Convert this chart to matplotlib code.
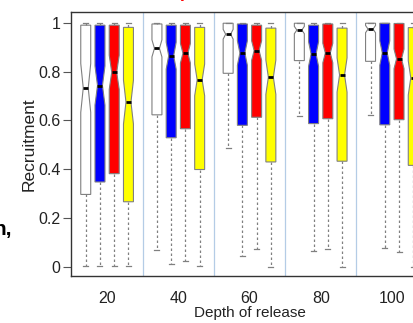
import matplotlib
matplotlib.use("Agg")
import matplotlib.pyplot as plt

plt.rcParams['font.family'] = ['Liberation Sans', 'DejaVu Sans']

depths = [20, 40, 60, 80, 100]
colors = ['white', '#0000ff', '#ff0000', '#ffff00']

# per series: values for depth 20..100
white_med = [0.733, 0.895, 0.953, 0.970, 0.974]
white_q1 = [0.297, 0.623, 0.793, 0.845, 0.842]
white_q3 = [0.990, 0.995, 0.998, 0.998, 0.998]
white_lo = [0.005, 0.069, 0.489, 0.620, 0.623]
white_ci = [0.10, 0.035, 0.02, 0.015, 0.015]

blue_med = [0.743, 0.865, 0.876, 0.872, 0.876]
blue_q1 = [0.348, 0.529, 0.580, 0.587, 0.582]
blue_q3 = [0.990, 0.990, 0.995, 0.990, 0.998]
blue_lo = [0.005, 0.012, 0.046, 0.065, 0.076]
blue_ci = [0.08, 0.055, 0.05, 0.05, 0.05]

red_med = [0.797, 0.875, 0.886, 0.876, 0.852]
red_q1 = [0.382, 0.566, 0.613, 0.607, 0.603]
red_q3 = [0.990, 0.990, 0.990, 0.995, 0.997]
red_lo = [0.005, 0.024, 0.072, 0.072, 0.060]
red_ci = [0.07, 0.04, 0.04, 0.04, 0.04]

yellow_med = [0.675, 0.766, 0.777, 0.786, 0.774]
yellow_q1 = [0.267, 0.399, 0.430, 0.433, 0.416]
yellow_q3 = [0.981, 0.981, 0.978, 0.978, 0.980]
yellow_lo = [0.005, 0.005, 0.001, 0.000, 0.000]
yellow_ci = [0.09, 0.065, 0.07, 0.07, 0.07]

whis_hi = 1.0

series = [
    (white_med, white_q1, white_q3, white_lo, white_ci),
    (blue_med, blue_q1, blue_q3, blue_lo, blue_ci),
    (red_med, red_q1, red_q3, red_lo, red_ci),
    (yellow_med, yellow_q1, yellow_q3, yellow_lo, yellow_ci),
]

fig = plt.figure(figsize=(4.14, 3.23), dpi=100)
ax = fig.add_axes([71.5 / 414, 47 / 323, 356 / 414, 264 / 323])

gray = '#808080'
for s, (med, q1, q3, lo, ci) in enumerate(series):
    stats = []
    pos = []
    for g in range(len(depths)):
        stats.append(dict(med=med[g], q1=q1[g], q3=q3[g], whislo=lo[g], whishi=whis_hi,
                          cilo=med[g] - ci[g], cihi=med[g] + ci[g], fliers=[]))
        pos.append(5 * g + 1 + s)
    ax.bxp(stats, positions=pos, widths=0.7, shownotches=True, patch_artist=True,
           showfliers=False, manage_ticks=False,
           boxprops=dict(facecolor=colors[s], edgecolor=gray, linewidth=0.8),
           medianprops=dict(color='black', linewidth=2),
           whiskerprops=dict(color=gray, linestyle=(0, (2, 2)), linewidth=0.9),
           capprops=dict(color=gray, linewidth=0.9), capwidths=0.35)

for g in range(1, len(depths)):
    ax.axvline(5 * g, color='#b4cce6', linewidth=0.9, zorder=0)

ax.set_xlim(0, 25)
ax.set_ylim(-0.037, 1.044)
ax.set_xticks([5 * g + 2.5 for g in range(len(depths))])
ax.set_xticklabels([str(d) for d in depths])
ax.set_yticks([0, 0.2, 0.4, 0.6, 0.8, 1.0])
ax.set_yticklabels(['0', '0.2', '0.4', '0.6', '0.8', '1'])
ax.tick_params(axis='x', length=0, labelsize=11.5, pad=11, colors='#222222')
ax.tick_params(axis='y', length=6, width=0.8, labelsize=11.5, pad=2, color='#555555', labelcolor='#222222')
ax.spines['right'].set_visible(False)
for sp in ['top', 'left', 'bottom']:
    ax.spines[sp].set_color('#333333')
    ax.spines[sp].set_linewidth(1.0)

ax.set_xlabel('Depth of release', fontsize=11, labelpad=0, color='#222222')
ax.set_ylabel('Recruitment', fontsize=12.5, labelpad=1, color='#222222')

# fragments of surrounding text, cut by the crop as in the source image
fig.text(0.435, 0.997, '(', color='red', fontsize=13, fontweight='bold', ha='center', va='bottom')
fig.text(12 / 414, 1 - 229 / 323, 'n,', fontsize=15, fontweight='bold', ha='right', va='center')

fig.savefig('out.png', dpi=100)
